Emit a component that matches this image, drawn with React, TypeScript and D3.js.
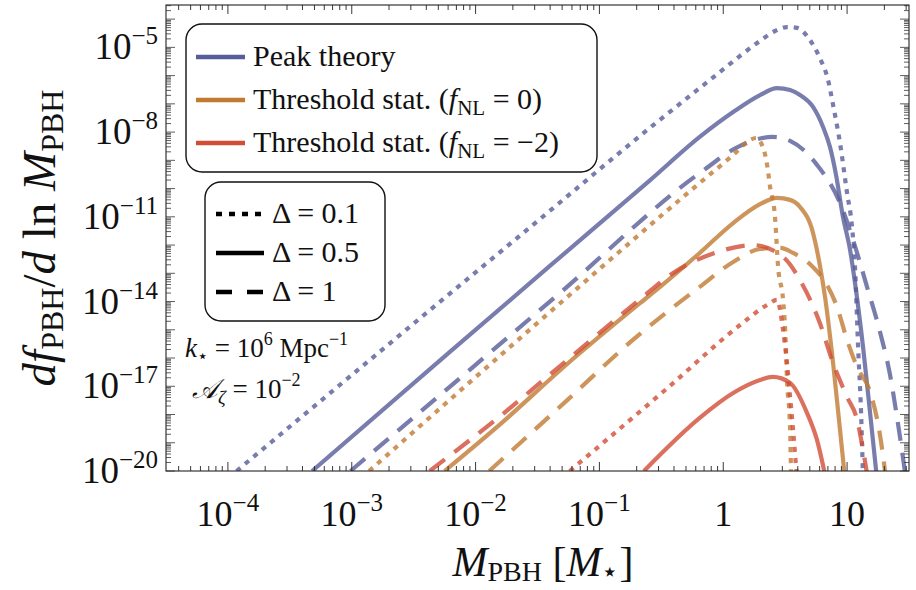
import React from "react";
import * as d3 from "d3";

const FONT = "'Liberation Serif', 'Times New Roman', serif";

// ---- axis ticks ----
const xMajorTicks = [1e-4, 1e-3, 1e-2, 1e-1, 1, 10];
const xTickBase = ["10", "10", "10", "10", "1", "10"];
const xTickExp = ["−4", "−3", "−2", "−1", "", ""];
const yLabelTicks = [1e-5, 1e-8, 1e-11, 1e-14, 1e-17, 1e-20];
const yTickExp = ["−5", "−8", "−11", "−14", "−17", "−20"];

// ---- legend ----
const methodNames = ["Peak theory", "Threshold stat. (", "Threshold stat. ("];
const methodFnl = ["", "0", "−2"];
const deltaValues = ["0.1", "0.5", "1"];
const methodColors = ["#585c98", "#c07a32", "#d24c36"];
const deltaDash = ["5 6", "", "19 12"];

// ---- curves: [log10(M_PBH / M_star), log10(df/dlnM)] ----
const peak01: [number, number][] = [
  [-3.93, -20], [-2.61, -15.18], [-1.42, -10.86], [-0.615, -7.93], [-0.19, -6.44],
  [-0.026, -5.87], [0.136, -5.3], [0.297, -4.77], [0.418, -4.42], [0.515, -4.28],
  [0.596, -4.31], [0.7, -4.74], [0.78, -5.38], [0.846, -6.15], [0.887, -7.04],
  [0.943, -8.39], [1.0, -10.16], [1.04, -11.36], [1.064, -12.78], [1.089, -15.61],
  [1.113, -17.95], [1.129, -20.3],
];
const peak05: [number, number][] = [
  [-3.32, -20], [-2.21, -15.79], [-1.4, -12.74], [-0.59, -9.7], [-0.19, -8.17],
  [0.08, -7.29], [0.297, -6.69], [0.434, -6.44], [0.54, -6.51], [0.62, -6.69],
  [0.725, -7.11], [0.806, -7.82], [0.862, -8.53], [0.911, -9.52], [0.967, -11.01],
  [1.024, -12.17], [1.064, -13.34], [1.129, -15.61], [1.186, -17.95], [1.242, -20.3],
];
const peak1: [number, number][] = [
  [-3.01, -20], [-1.32, -13.7], [-0.19, -9.45], [0.136, -8.49], [0.4, -8.17],
  [0.54, -8.31], [0.757, -9.16], [0.943, -10.51], [1.081, -12.28], [1.161, -13.48],
  [1.266, -15.08], [1.347, -16.6], [1.404, -18.12], [1.476, -20.3],
];
const thr0_01: [number, number][] = [
  [-2.86, -20], [-1.26, -13.84], [-0.19, -9.8], [0.08, -8.81], [0.216, -8.28],
  [0.265, -8.21], [0.32, -8.53], [0.354, -9.16], [0.378, -9.94], [0.418, -11.01],
  [0.443, -12.78], [0.483, -13.94], [0.5, -15.01], [0.515, -16.78], [0.54, -18.55],
  [0.548, -20.3],
];
const thr0_05: [number, number][] = [
  [-2.25, -20], [-1.8, -18.34], [-1.26, -16.21], [-0.67, -14.05], [-0.51, -13.48],
  [-0.19, -12.28], [0.08, -11.22], [0.297, -10.55], [0.434, -10.33], [0.54, -10.4],
  [0.62, -10.65], [0.725, -11.57], [0.78, -12.71], [0.822, -13.84], [0.887, -16.18],
  [0.943, -18.55], [0.984, -20.3],
];
const thr0_1: [number, number][] = [
  [-1.89, -20], [-1.26, -17.49], [-0.73, -15.36], [-0.19, -13.48], [0.08, -12.6],
  [0.297, -12.14], [0.459, -12.1], [0.564, -12.28], [0.725, -12.78], [0.838, -13.41],
  [0.919, -14.19], [1.0, -15.36], [1.081, -16.32], [1.186, -17.2], [1.266, -18.73],
  [1.315, -20.3],
];
const thr2_01: [number, number][] = [
  [-1.24, -20], [-0.45, -17.06], [0.136, -14.83], [0.354, -14.12], [0.434, -13.94],
  [0.483, -15.01], [0.515, -16.18], [0.54, -17.38], [0.564, -18.55], [0.596, -20.3],
];
const thr2_05: [number, number][] = [
  [-0.64, -20], [-0.19, -18.12], [0.08, -17.24], [0.297, -16.78], [0.4, -16.67],
  [0.54, -16.88], [0.677, -17.95], [0.757, -18.9], [0.83, -20.3],
];
const thr2_1: [number, number][] = [
  [-2.37, -20], [-1.8, -18.05], [-1.26, -16.07], [-0.67, -13.91], [-0.405, -12.99],
  [-0.05, -12.25], [0.24, -12.0], [0.483, -12.42], [0.62, -13.24], [0.78, -14.76],
  [0.887, -16.18], [1.0, -17.38], [1.081, -18.19], [1.129, -19.26], [1.169, -20.3],
];

const series = [
  { method: 0, delta: 0, pts: peak01 },
  { method: 0, delta: 1, pts: peak05 },
  { method: 0, delta: 2, pts: peak1 },
  { method: 1, delta: 0, pts: thr0_01 },
  { method: 1, delta: 1, pts: thr0_05 },
  { method: 1, delta: 2, pts: thr0_1 },
  { method: 2, delta: 0, pts: thr2_01 },
  { method: 2, delta: 1, pts: thr2_05 },
  { method: 2, delta: 2, pts: thr2_1 },
];

const L = 166, R = 909, T = 5, B = 471;

export default function App() {
  const x = d3.scaleLog().domain([10 ** -4.5, 10 ** 1.5]).range([L, R]);
  const y = d3.scaleLog().domain([1e-20, 10 ** -3.5]).range([B, T]);
  const line = d3
    .line<[number, number]>()
    .x((d) => x(10 ** d[0]))
    .y((d) => y(10 ** d[1]))
    .curve(d3.curveMonotoneX);

  const isMajor = (v: number) => Math.abs(Math.log10(v) - Math.round(Math.log10(v))) < 1e-6;
  const xt = x.ticks(12).filter((v) => v >= x.domain()[0] && v <= x.domain()[1]);
  const yt = y.ticks(20).filter((v) => v >= y.domain()[0] && v <= y.domain()[1]);

  const majLen = 9, minLen = 5;

  return (
    <div style={{ position: "absolute", left: 0, top: 0 }}>
      <svg width={916} height={590} style={{ display: "block", background: "#fff" }} fontFamily={FONT}>
        <defs>
          <clipPath id="plot">
            <rect x={L} y={T} width={R - L} height={B - T} />
          </clipPath>
        </defs>

        {/* curves */}
        <g clipPath="url(#plot)" fill="none">
          {series.map((s, i) => (
            <path
              key={i}
              d={line(s.pts) || ""}
              stroke={methodColors[s.method]}
              strokeOpacity={0.8}
              strokeWidth={4.2}
              strokeDasharray={deltaDash[s.delta] || undefined}
              strokeLinecap="butt"
              strokeLinejoin="round"
            />
          ))}
        </g>

        {/* frame */}
        <rect x={L} y={T} width={R - L} height={B - T} fill="none" stroke="#222" strokeWidth={1.1} />

        {/* x ticks */}
        <g stroke="#222" strokeWidth={0.9}>
          {xt.map((v, i) => {
            const len = isMajor(v) ? majLen : minLen;
            const px = x(v);
            return (
              <g key={i}>
                <line x1={px} x2={px} y1={B} y2={B - len} />
                <line x1={px} x2={px} y1={T} y2={T + len} />
              </g>
            );
          })}
        </g>
        {/* y ticks */}
        <g stroke="#333" strokeWidth={0.8}>
          {yt.map((v, i) => {
            const len = isMajor(v) ? majLen : minLen;
            const py = y(v);
            return (
              <g key={i}>
                <line x1={L} x2={L + len} y1={py} y2={py} />
                <line x1={R} x2={R - len} y1={py} y2={py} />
              </g>
            );
          })}
        </g>

        {/* x tick labels */}
        {xMajorTicks.map((v, i) => (
          <text key={i} x={x(v)} y={526} textAnchor="middle" fontSize={36} fill="#111">
            {xTickBase[i]}
            {xTickExp[i] && (
              <tspan fontSize={25} dy={-15}>
                {xTickExp[i]}
              </tspan>
            )}
          </text>
        ))}

        {/* y tick labels */}
        {yLabelTicks.map((v, i) => (
          <text key={i} x={158} y={y(v) + 12} textAnchor="end" fontSize={37} fill="#111">
            10
            <tspan fontSize={25} dy={-15}>
              {yTickExp[i]}
            </tspan>
          </text>
        ))}

        {/* axis titles */}
        <text x={543} y={576} textAnchor="middle" fontSize={42} fill="#111">
          <tspan fontStyle="italic">M</tspan>
          <tspan fontSize={28} dy={5}>PBH</tspan>
          <tspan dy={-5}> [</tspan>
          <tspan fontStyle="italic">M</tspan>
          <tspan fontSize={28} dy={5}>⋆</tspan>
          <tspan dy={-5}>]</tspan>
        </text>
        <text
          transform="translate(55,238) rotate(-90)"
          textAnchor="middle"
          fontSize={47}
          fill="#111"
        >
          <tspan fontStyle="italic">df</tspan>
          <tspan fontSize={32} dy={8}>PBH</tspan>
          <tspan dy={-8}>/</tspan>
          <tspan fontStyle="italic">d</tspan>
          <tspan> ln </tspan>
          <tspan fontStyle="italic">M</tspan>
          <tspan fontSize={32} dy={8}>PBH</tspan>
        </text>

        {/* method legend */}
        <rect x={186} y={24} width={411} height={148} rx={16} fill="#fff" stroke="#111" strokeWidth={1.4} />
        {methodNames.map((name, i) => {
          const cy = 57 + i * 43;
          return (
            <g key={i}>
              <line x1={196} x2={245} y1={cy} y2={cy} stroke={methodColors[i]} strokeWidth={4.5} />
              <text x={253} y={cy + 9} fontSize={30} fill="#111">
                {name}
                {methodFnl[i] && (
                  <>
                    <tspan fontStyle="italic">f</tspan>
                    <tspan fontSize={21} dy={6}>NL</tspan>
                    <tspan dy={-6}> = {methodFnl[i]})</tspan>
                  </>
                )}
              </text>
            </g>
          );
        })}

        {/* delta legend */}
        <rect x={205} y={182} width={180} height={139} rx={16} fill="#fff" stroke="#111" strokeWidth={1.4} />
        {deltaValues.map((d, i) => {
          const cy = 214 + i * 39;
          return (
            <g key={i}>
              <line
                x1={216}
                x2={264}
                y1={cy}
                y2={cy}
                stroke="#000"
                strokeWidth={4.5}
                strokeDasharray={i === 0 ? "6 7" : i === 2 ? "16 15" : undefined}
              />
              <text x={272} y={cy + 9} fontSize={30} fill="#111">
                Δ = {d}
              </text>
            </g>
          );
        })}

        {/* annotations */}
        <text x={185} y={357} fontSize={27} fill="#111">
          <tspan fontStyle="italic">k</tspan>
          <tspan fontSize={18} dy={5}>⋆</tspan>
          <tspan dy={-5}> = 10</tspan>
          <tspan fontSize={18} dy={-12}>6</tspan>
          <tspan dy={12}> Mpc</tspan>
          <tspan fontSize={18} dy={-12}>−1</tspan>
        </text>
        <text x={192} y={398} fontSize={27} fill="#111">
          <tspan fontStyle="italic">𝒜</tspan>
          <tspan fontSize={19} dy={6} fontStyle="italic">ζ</tspan>
          <tspan dy={-6}> = 10</tspan>
          <tspan fontSize={18} dy={-12}>−2</tspan>
        </text>
      </svg>
    </div>
  );
}
